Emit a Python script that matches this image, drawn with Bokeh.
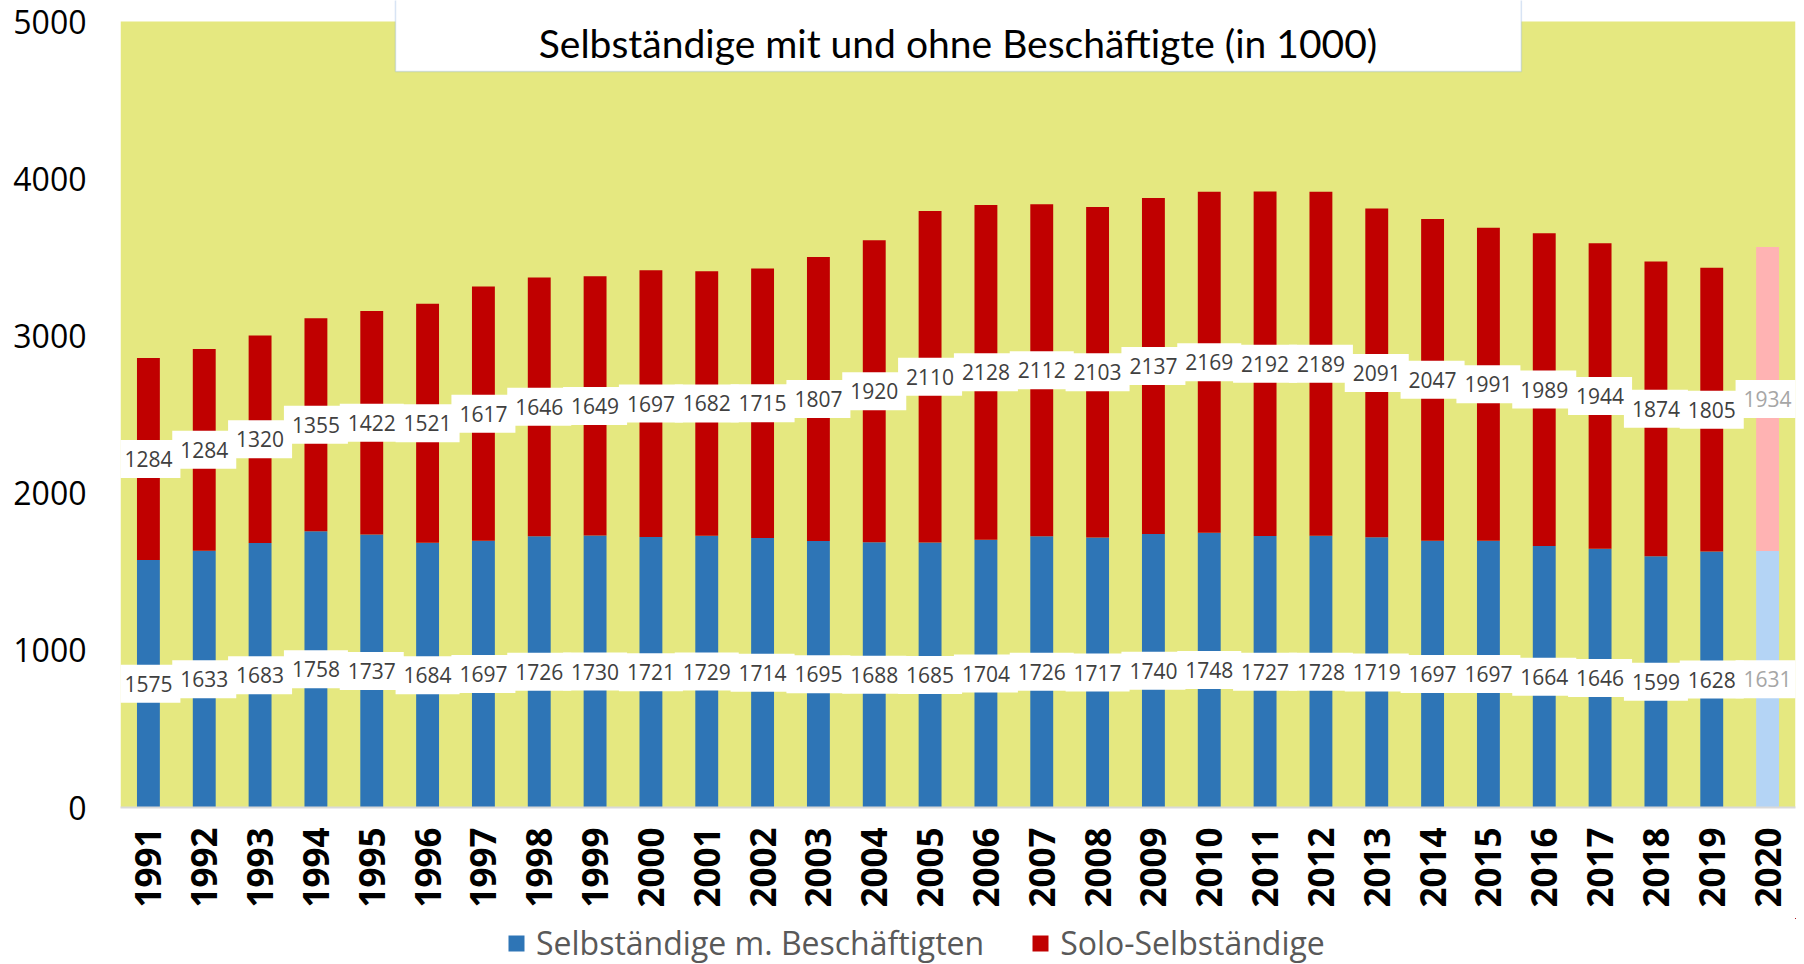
from bokeh.plotting import figure
from bokeh.layouts import column
from bokeh.models import (ColumnDataSource, Range1d, FixedTicker, BoxAnnotation,
                          Label, Legend, LegendItem)
from bokeh.core.properties import value
from bokeh.embed import file_html
from bokeh.resources import INLINE

# ---------------- data ----------------
years = ["1991", "1992", "1993", "1994", "1995", "1996", "1997", "1998", "1999", "2000",
         "2001", "2002", "2003", "2004", "2005", "2006", "2007", "2008", "2009", "2010",
         "2011", "2012", "2013", "2014", "2015", "2016", "2017", "2018", "2019", "2020"]
mit_beschaeftigten = [1575, 1633, 1683, 1758, 1737, 1684, 1697, 1726, 1730, 1721,
                      1729, 1714, 1695, 1688, 1685, 1704, 1726, 1717, 1740, 1748,
                      1727, 1728, 1719, 1697, 1697, 1664, 1646, 1599, 1628, 1631]
solo = [1284, 1284, 1320, 1355, 1422, 1521, 1617, 1646, 1649, 1697,
        1682, 1715, 1807, 1920, 2110, 2128, 2112, 2103, 2137, 2169,
        2192, 2189, 2091, 2047, 1991, 1989, 1944, 1874, 1805, 1934]
y_ticks = [0, 1000, 2000, 3000, 4000, 5000]
title_text = "Selbständige mit und ohne Beschäftigte (in 1000)"
series_names = ["Selbständige m. Beschäftigten", "Solo-Selbständige"]

# ---------------- styles ----------------
BLUE, RED = "#2E75B6", "#C00000"
BLUE_LIGHT, RED_LIGHT = "#B4D4F5", "#FFB3B3"
BG = "#E5E880"
LABEL_COL, LABEL_COL_LIGHT = "#404040", "#A6A6A6"

n = len(years)
xs = [i + 0.5 for i in range(n)]
totals = [b + s for b, s in zip(mit_beschaeftigten, solo)]
mid_b = [b / 2 for b in mit_beschaeftigten]
mid_s = [b + s / 2 for b, s in zip(mit_beschaeftigten, solo)]
c_blue = [BLUE] * (n - 1) + [BLUE_LIGHT]
c_red = [RED] * (n - 1) + [RED_LIGHT]
c_text = [LABEL_COL] * (n - 1) + [LABEL_COL_LIGHT]

src = ColumnDataSource(dict(
    x=xs, blue=mit_beschaeftigten, total=totals, mid_b=mid_b, mid_s=mid_s,
    t_b=[str(v) for v in mit_beschaeftigten], t_s=[str(v) for v in solo],
    c_blue=c_blue, c_red=c_red, c_text=c_text))

# frame: 807 px tall, value 5000 sits 21 px below the frame top
y_top = 5000 * 807 / 786

p = figure(width=1804, height=918, output_backend="svg", toolbar_location=None,
           x_range=Range1d(0, n), y_range=Range1d(0, y_top),
           min_border_left=120, min_border_right=9, min_border_top=0, min_border_bottom=111)
p.background_fill_color = "white"
p.border_fill_color = "white"
p.outline_line_color = None
p.xgrid.visible = False
p.ygrid.visible = False

# yellow plot area
p.add_layout(BoxAnnotation(bottom=0, top=5000, fill_color=BG, fill_alpha=1,
                           line_alpha=0, level="underlay"))

r1 = p.vbar(x="x", bottom=0, top="blue", width=0.41, fill_color="c_blue",
            line_color=None, source=src)
r2 = p.vbar(x="x", bottom="blue", top="total", width=0.41, fill_color="c_red",
            line_color=None, source=src)

# data label boxes + text
for ycol in ("mid_b", "mid_s"):
    p.rect(x="x", y=ycol, width=64, height=38, width_units="screen", height_units="screen",
           fill_color="white", line_color=None, source=src)
for ycol, tcol in (("mid_b", "t_b"), ("mid_s", "t_s")):
    p.text(x="x", y=ycol, text=tcol, text_align="center", text_baseline="middle",
           text_font=value("Open Sans"), text_font_size="21px", text_color="c_text",
           source=src)

# title box
p.add_layout(BoxAnnotation(left=4.925, right=25.09, bottom=4682, top=5500,
                           fill_color="white", fill_alpha=1,
                           line_color="#7FA6D9", line_width=1.5))
p.add_layout(Label(x=n / 2, y=4862, text=title_text, text_align="center",
                   text_baseline="middle", text_font="Lato", text_font_size="39px",
                   text_color="#000000"))

# axes
p.xaxis.ticker = FixedTicker(ticks=xs)
p.xaxis.major_label_overrides = {x: y for x, y in zip(xs, years)}
p.xaxis.major_label_orientation = 3.14159265 / 2
p.xaxis.major_label_text_font = "Open Sans"
p.xaxis.major_label_text_font_style = "bold"
p.xaxis.major_label_text_font_size = "35px"
p.xaxis.major_label_text_color = "#000000"
p.xaxis.major_label_standoff = 14
p.xaxis.major_tick_line_color = None
p.xaxis.minor_tick_line_color = None
p.xaxis.axis_line_color = "#D9D9D9"
p.xaxis.axis_line_width = 2

p.yaxis.ticker = FixedTicker(ticks=y_ticks)
p.yaxis.major_label_text_font = "Open Sans"
p.yaxis.major_label_text_font_size = "32px"
p.yaxis.major_label_text_color = "#000000"
p.yaxis.major_label_standoff = 28
p.yaxis.major_tick_line_color = None
p.yaxis.minor_tick_line_color = None
p.yaxis.axis_line_color = None

# ---------------- legend strip ----------------
lf = figure(width=1804, height=46, output_backend="svg", toolbar_location=None,
            x_range=Range1d(-10, -9), y_range=Range1d(-10, -9),
            x_axis_location=None, y_axis_location=None, min_border=0)
lf.outline_line_color = None
lf.background_fill_color = "white"
lf.border_fill_color = "white"
lf.grid.visible = False
l1 = lf.vbar(x="x", bottom=0, top="blue", width=0.41, fill_color="c_blue",
             line_color=None, source=src)
l2 = lf.vbar(x="x", bottom="blue", top="total", width=0.41, fill_color="c_red",
             line_color=None, source=src)
legend = Legend(items=[LegendItem(label=series_names[0], renderers=[l1], index=0),
                       LegendItem(label=series_names[1], renderers=[l2], index=0)],
                orientation="horizontal", location=(386, 0),
                label_text_font="Open Sans", label_text_font_size="32px",
                label_text_color="#595959", glyph_width=20, glyph_height=20,
                label_standoff=10, spacing=46, padding=0, margin=0,
                border_line_alpha=0, background_fill_alpha=0)
lf.add_layout(legend)

layout = column(p, lf, spacing=0)
open("out.html", "w").write(file_html(layout, INLINE))
